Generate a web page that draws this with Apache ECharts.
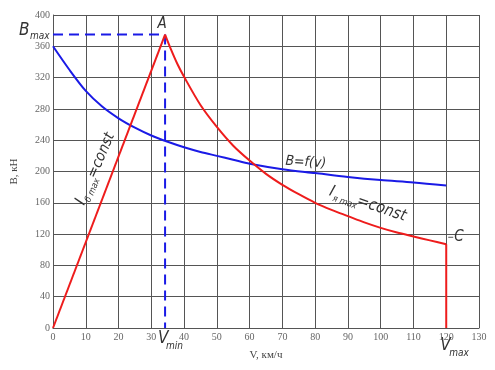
<!DOCTYPE html>
<html><head><meta charset="utf-8">
<script src="https://cdn.jsdelivr.net/npm/echarts@6/dist/echarts.min.js"></script>
<style>html,body{margin:0;padding:0;background:#fff}#c{width:495px;height:370px}</style>
</head><body><div id="c"></div>
<script>
// Data
const vmin = 34.2;          // km/h, point A
const bmax = 375;           // kN, point A
const vmax = 120;           // km/h
const riseV = [0, 34.2];
const riseB = [0, 375];
const fallV = [34.2, 36, 38, 40, 45, 50, 55, 60, 65, 70, 75, 80, 85, 90, 95, 100, 105, 110, 115, 120];
const fallB = [375, 356, 337, 321, 285, 257, 233, 214, 197, 183, 171, 160, 151, 143, 135, 128, 122, 117, 112, 107];
const dropV = [120, 120];
const dropB = [107, 0];
const blueV = [0, 5, 10, 15, 20, 25, 30, 35, 40, 45, 50, 55, 60, 70, 80, 90, 100, 110, 120];
const blueB = [360, 330, 303, 283, 268, 256, 246, 238, 231, 225, 220, 215, 210, 203, 198, 193, 189, 186, 182];
const xTicks = [0, 130, 10];   // min, max, step
const yTicks = [0, 400, 40];

const chart = echarts.init(document.getElementById('c'), null, {renderer: 'canvas'});
const zip = (a, b) => a.map((v, i) => [v, b[i]]);
const gridColor = '#555';
const tickFont = {fontFamily: 'Liberation Serif', fontSize: 10, color: '#666'};
const annFont = "'Liberation Sans Narrow','DejaVu Sans Condensed','Liberation Sans',sans-serif";
const red = '#ee1c1c', blue = '#1a1ae6';

chart.setOption({
  animation: false,
  grid: {left: 53, right: 16, top: 15, bottom: 42},
  xAxis: {
    type: 'value', min: xTicks[0], max: xTicks[1], interval: xTicks[2],
    name: 'V, км/ч', nameLocation: 'middle', nameGap: 22,
    nameTextStyle: {fontFamily: 'Liberation Serif', fontSize: 11, color: '#444'},
    axisLine: {show: true, lineStyle: {color: gridColor, width: 1}},
    axisTick: {show: false},
    axisLabel: Object.assign({margin: 4}, tickFont),
    splitLine: {show: true, lineStyle: {color: gridColor, width: 1}}
  },
  yAxis: {
    type: 'value', min: yTicks[0], max: yTicks[1], interval: yTicks[2],
    name: 'B, кН', nameLocation: 'middle', nameGap: 33, nameRotate: 90,
    nameTextStyle: {fontFamily: 'Liberation Serif', fontSize: 11, color: '#444'},
    axisLine: {show: true, lineStyle: {color: gridColor, width: 1}},
    axisTick: {show: false},
    axisLabel: Object.assign({margin: 3}, tickFont),
    splitLine: {show: true, lineStyle: {color: gridColor, width: 1}}
  },
  series: [
    {type: 'line', data: [[xTicks[0], bmax], [vmin, bmax]], symbol: 'none', silent: true,
     lineStyle: {color: blue, width: 2, type: [10, 6]}},
    {type: 'line', data: [[vmin, bmax], [vmin, yTicks[0]]], symbol: 'none', silent: true,
     lineStyle: {color: blue, width: 2, type: [10, 6]}},
    {type: 'line', data: zip(blueV, blueB), symbol: 'none', smooth: 0.3,
     lineStyle: {color: blue, width: 2}},
    {type: 'line', data: zip(riseV, riseB), symbol: 'none', lineStyle: {color: red, width: 2}},
    {type: 'line', data: zip(fallV, fallB), symbol: 'none', smooth: 0.3,
     lineStyle: {color: red, width: 2}},
    {type: 'line', data: zip(dropV, dropB), symbol: 'none', lineStyle: {color: red, width: 2}}
  ]
});

const px = (v, b) => chart.convertToPixel({gridIndex: 0}, [v, b]);
function txt(x, y, s, size, extra) {
  return {type: 'text', x: x, y: y, style: Object.assign({
    text: s, fontFamily: annFont, fontStyle: 'italic', fontSize: size, fill: '#333',
    align: 'left', verticalAlign: 'middle'}, extra || {})};
}
const pTop = px(vmin, yTicks[1]);
const pC = px(vmax, fallB[fallB.length - 1]);
const pVmin = px(vmin, 0);
const pVmax = px(vmax, 0);
const pBm = px(0, bmax);
const pFv = px(70, 208);
const pIa = px(84.5, 175);
const pIb = px(8, 120);

chart.setOption({graphic: [
  txt(pTop[0] - 3, pTop[1] + 9, 'A', 15, {align: 'center', backgroundColor: '#fff', padding: [0, 3]}),
  txt(pBm[0] - 34, pBm[1] - 4, 'B', 17),
  txt(pBm[0] - 23, pBm[1] + 2, 'max', 10),
  txt(pVmin[0] - 7, pVmin[1] + 11, 'V', 17),
  txt(pVmin[0] + 1, pVmin[1] + 18, 'min', 10),
  txt(pVmax[0] - 6, pVmax[1] + 18, 'V', 17),
  txt(pVmax[0] + 3, pVmax[1] + 25, 'max', 10),
  {type: 'line', shape: {x1: pC[0] + 2, y1: pC[1] - 7, x2: pC[0] + 7, y2: pC[1] - 7}, style: {stroke: '#555', lineWidth: 1}},
  txt(pC[0] + 8, pC[1] - 7, 'C', 15),
  {type: 'group', x: pFv[0] + 3, y: pFv[1] - 4, rotation: -0.06, children: [txt(0, 0, 'B=f(v)', 14)]},
  {type: 'group', x: pIa[0], y: pIa[1], rotation: -0.33, children: [
    txt(0, 0, 'I', 16),
    txt(5, 6, 'я max', 9),
    txt(29, 0, '=const', 16)
  ]},
  {type: 'group', x: pIb[0] + 1, y: pIb[1] - 30, rotation: 1.16, children: [
    txt(0, 0, 'I', 16),
    txt(5, 6, 'б max', 9),
    txt(29, 0, '=const', 15)
  ]}
]});
</script></body></html>
